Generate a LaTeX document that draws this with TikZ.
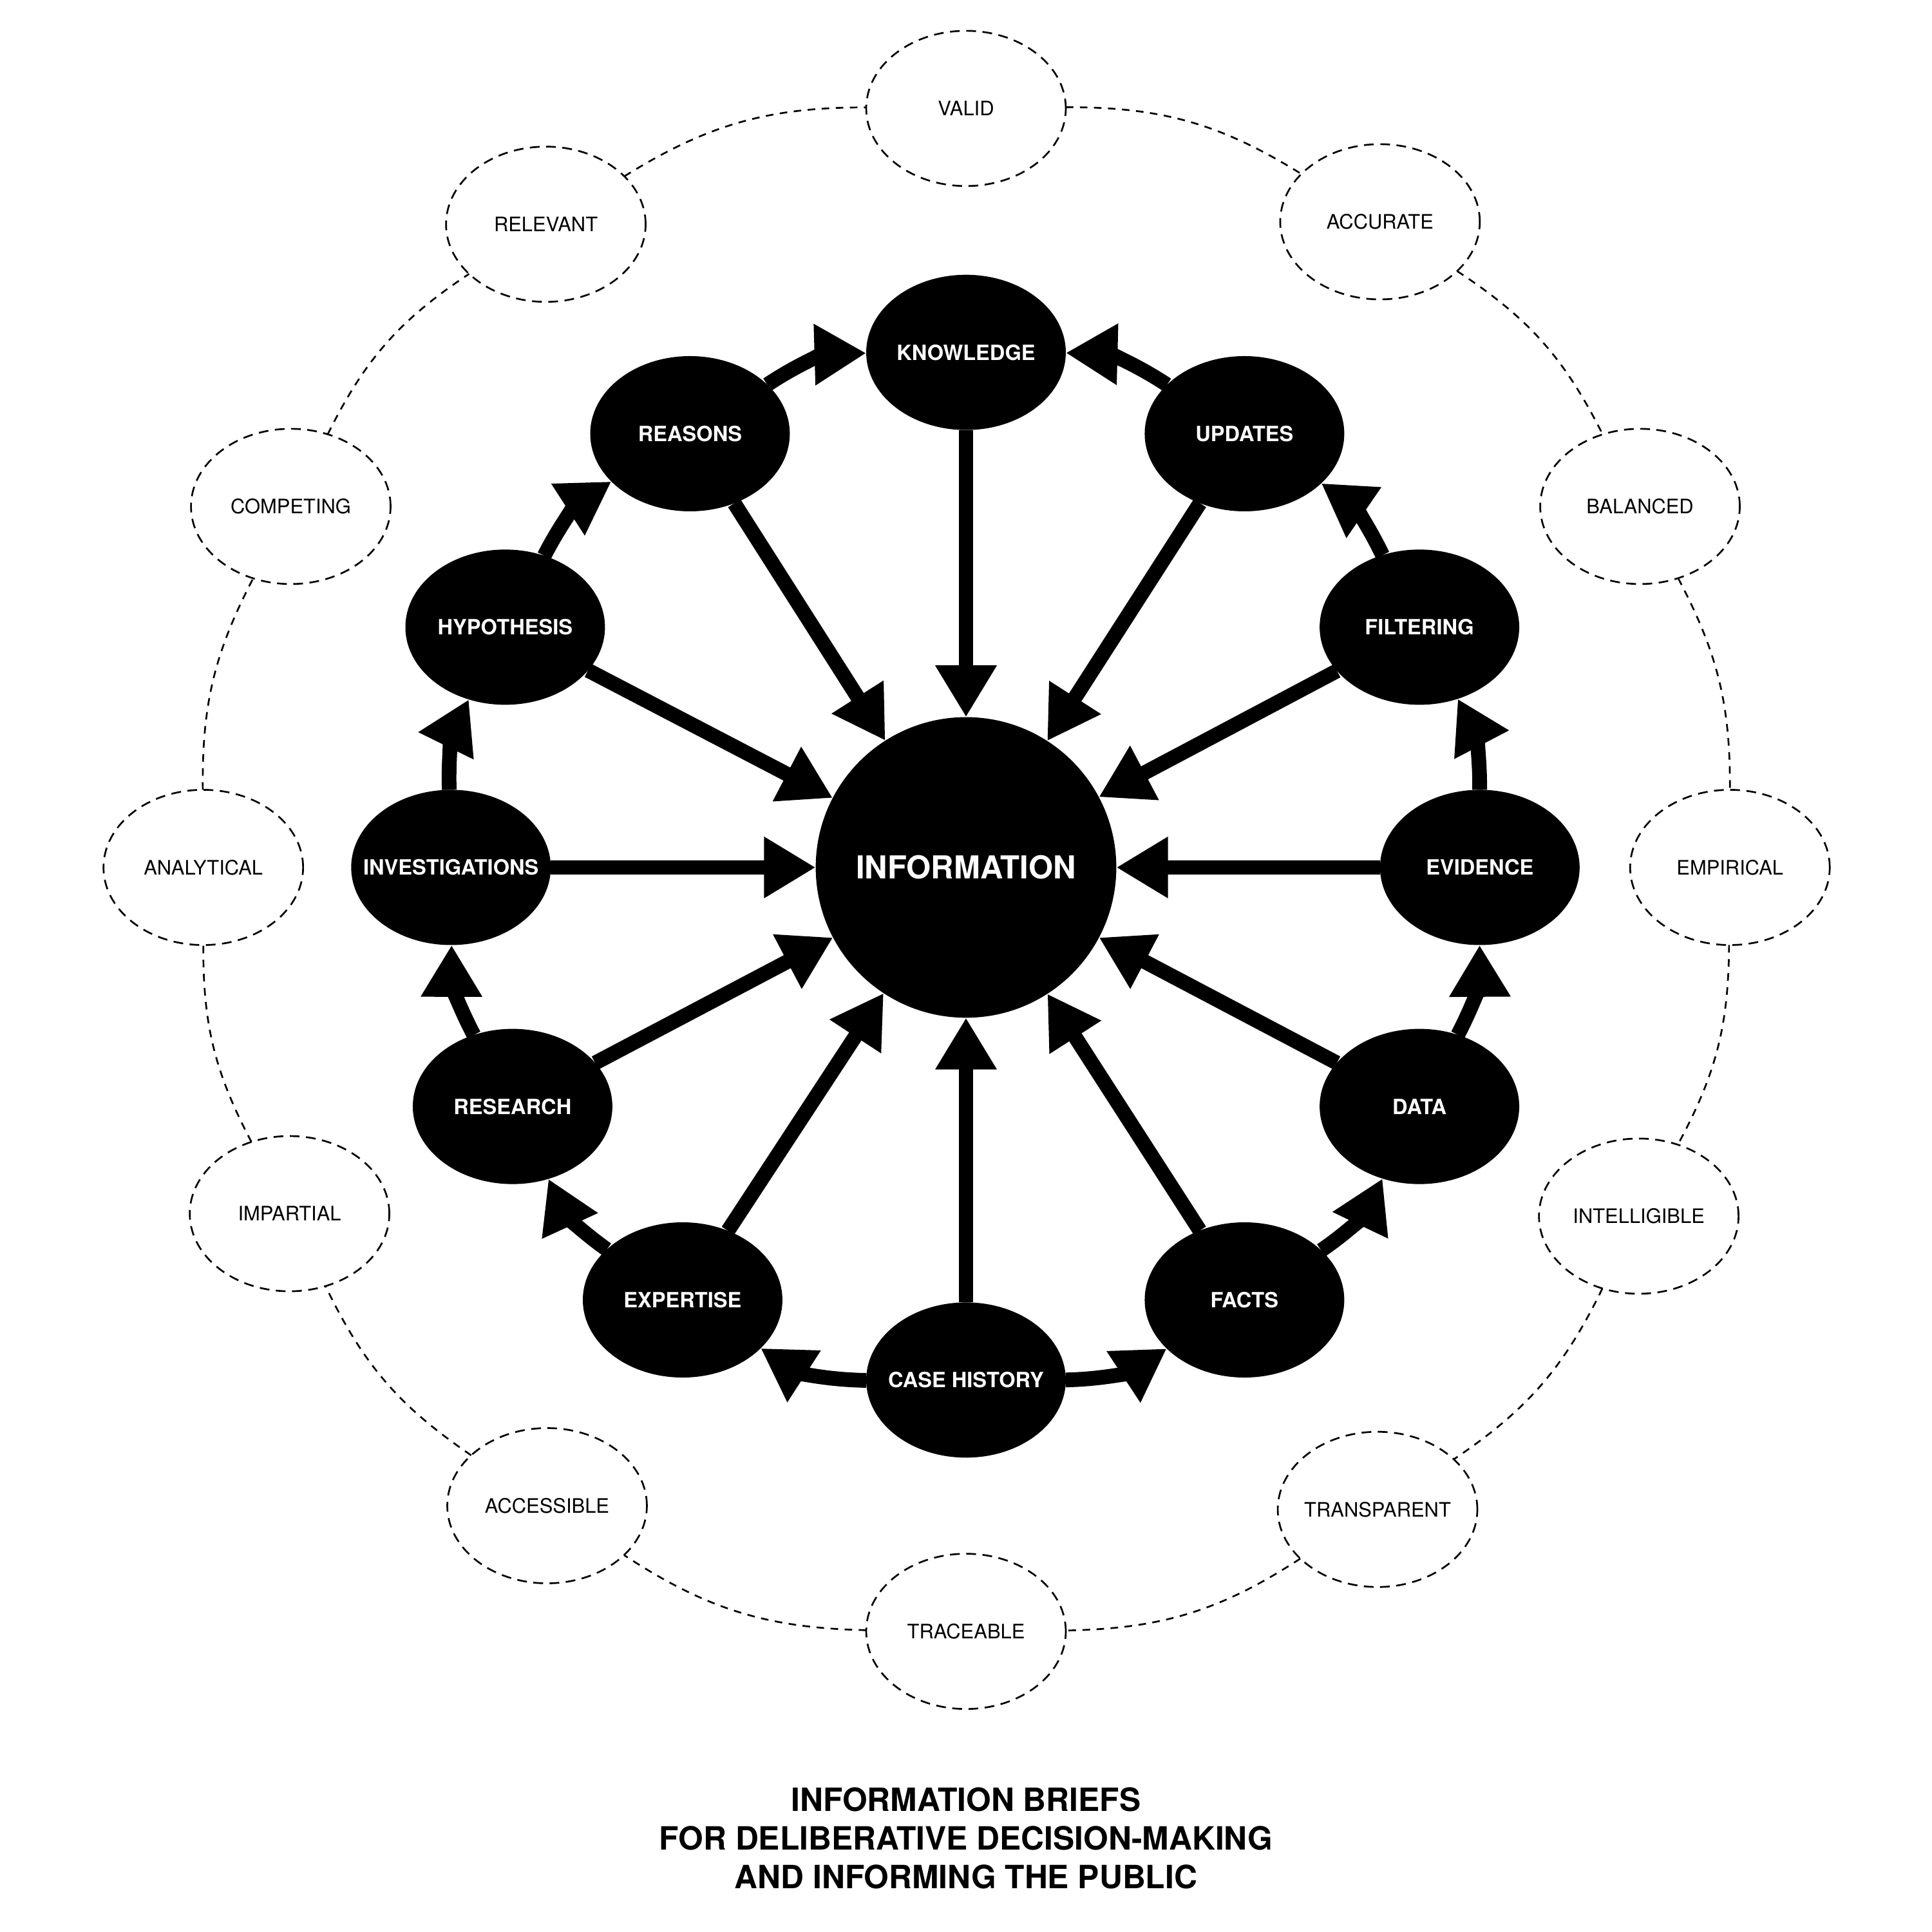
\documentclass[tikz,border=0pt]{standalone}
\usepackage{fontspec}
\setmainfont{TeX Gyre Heros}
\usetikzlibrary{arrows.meta,shapes.geometric}
\newcommand{\fixlbl}[1]{\makebox[0pt]{#1}}
\begin{document}
\begin{tikzpicture}[x=0.02cm,y=0.02cm,
  inner/.style={ellipse, fill=black, text=white, minimum width=3.24cm, minimum height=2.52cm,
    inner sep=0pt, outer sep=0pt, font=\bfseries\fontsize{9.7}{11}\selectfont},
  core/.style={circle, fill=black, text=white, minimum size=4.88cm, inner sep=0pt, outer sep=0pt,
    font=\bfseries\fontsize{14.6}{17}\selectfont},
  outer/.style={ellipse, draw=black, fill=white, line width=0.8pt, dash pattern=on 4.5pt off 3pt,
    minimum width=3.24cm, minimum height=2.52cm, inner sep=0pt, outer sep=0pt,
    font=\fontsize{9.2}{11}\selectfont},
  ring/.style={draw, line width=0.8pt, dash pattern=on 3.5pt off 3pt},
  flow/.style={line width=6.8pt, -{Triangle[length=0.84cm,width=0.94cm]}},
]
\useasboundingbox (0,0) rectangle (1568,-1568);

% centre
\node[core] (info) at (784,-704) {\fixlbl{INFORMATION}};

% inner ring
\node[inner] (knowledge) at (784,-286) {\fixlbl{KNOWLEDGE}};
\node[inner] (reasons) at (560,-352) {\fixlbl{REASONS}};
\node[inner] (updates) at (1010,-352) {\fixlbl{UPDATES}};
\node[inner] (hypothesis) at (410,-509) {\fixlbl{HYPOTHESIS}};
\node[inner] (filtering) at (1152,-509) {\fixlbl{FILTERING}};
\node[inner] (investigations) at (366,-704) {\fixlbl{INVESTIGATIONS}};
\node[inner] (evidence) at (1201,-704) {\fixlbl{EVIDENCE}};
\node[inner] (research) at (416,-898) {\fixlbl{RESEARCH}};
\node[inner] (data) at (1152,-898) {\fixlbl{DATA}};
\node[inner] (expertise) at (554,-1055) {\fixlbl{EXPERTISE}};
\node[inner] (facts) at (1010,-1055) {\fixlbl{FACTS}};
\node[inner] (casehistory) at (784,-1120) {\fixlbl{CASE HISTORY}};

% outer ring
\node[outer] (valid) at (784,-88) {\fixlbl{VALID}};
\node[outer] (relevant) at (443,-182) {\fixlbl{RELEVANT}};
\node[outer] (accurate) at (1120,-180) {\fixlbl{ACCURATE}};
\node[outer] (competing) at (236,-411) {\fixlbl{COMPETING}};
\node[outer] (balanced) at (1331,-411) {\fixlbl{BALANCED}};
\node[outer] (analytical) at (165,-704) {\fixlbl{ANALYTICAL}};
\node[outer] (empirical) at (1404,-704) {\fixlbl{EMPIRICAL}};
\node[outer] (impartial) at (235,-985) {\fixlbl{IMPARTIAL}};
\node[outer] (intelligible) at (1330,-987) {\fixlbl{INTELLIGIBLE}};
\node[outer] (accessible) at (444,-1222) {\fixlbl{ACCESSIBLE}};
\node[outer] (transparent) at (1118,-1225) {\fixlbl{TRANSPARENT}};
\node[outer] (traceable) at (784,-1324) {\fixlbl{TRACEABLE}};

% dashed outer connectors
\path[ring] (valid) to[bend left=16] (accurate);
\path[ring] (accurate) to[bend left=15] (balanced);
\path[ring] (balanced) to[bend left=14] (empirical);
\path[ring] (empirical) to[bend left=14] (intelligible);
\path[ring] (intelligible) to[bend left=15] (transparent);
\path[ring] (transparent) to[bend left=16] (traceable);
\path[ring] (traceable) to[bend left=16] (accessible);
\path[ring] (accessible) to[bend left=15] (impartial);
\path[ring] (impartial) to[bend left=14] (analytical);
\path[ring] (analytical) to[bend left=14] (competing);
\path[ring] (competing) to[bend left=15] (relevant);
\path[ring] (relevant) to[bend left=16] (valid);

% radial arrows
\foreach \n in {knowledge,reasons,updates,hypothesis,filtering,investigations,evidence,research,data,expertise,facts,casehistory}
  \draw[flow] (\n) -- (info);

% peripheral arrows, left side
\draw[flow] (casehistory) to[bend left=16] (expertise);
\draw[flow] (expertise) to[bend left=15] (research);
\draw[flow] (research) to[bend left=14] (investigations);
\draw[flow] (investigations) to[bend left=14] (hypothesis);
\draw[flow] (hypothesis) to[bend left=15] (reasons);
\draw[flow] (reasons) to[bend left=16] (knowledge);
% peripheral arrows, right side
\draw[flow] (casehistory) to[bend right=16] (facts);
\draw[flow] (facts) to[bend right=15] (data);
\draw[flow] (data) to[bend right=14] (evidence);
\draw[flow] (evidence) to[bend right=14] (filtering);
\draw[flow] (filtering) to[bend right=15] (updates);
\draw[flow] (updates) to[bend right=16] (knowledge);

% title
\node[font=\bfseries\fontsize{14.8}{17.9}\selectfont, align=center] (title) at (784,-1492)
  {INFORMATION BRIEFS\\FOR DELIBERATIVE DECISION-MAKING\\AND INFORMING THE PUBLIC};
\end{tikzpicture}
\end{document}
